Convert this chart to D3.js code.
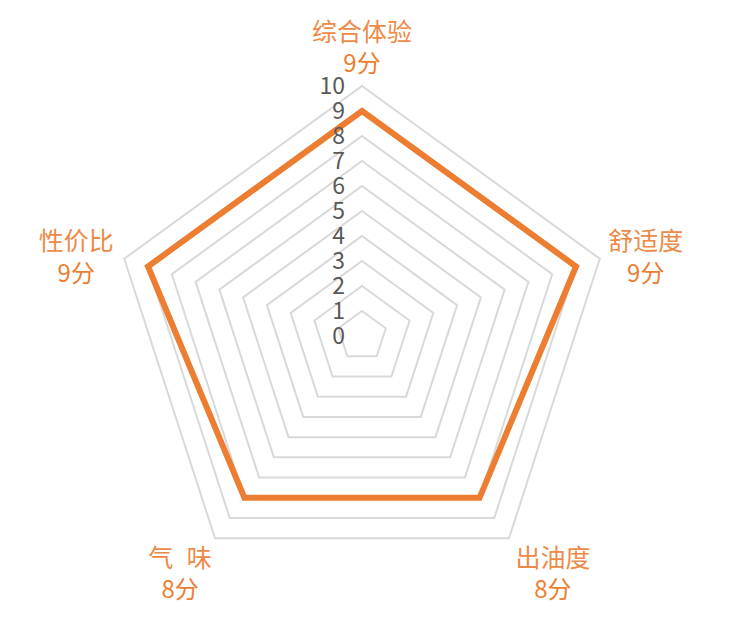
<!DOCTYPE html>
<html>
<head>
<meta charset="utf-8">
<script src="https://cdn.jsdelivr.net/npm/d3@7"></script>
<style>
  body { margin: 0; background: #fff; }
  text { font-family: "Noto Sans CJK SC", "Open Sans", sans-serif; white-space: pre; }
</style>
</head>
<body>
<div id="chart"></div>
<script>
// data
const categories = ["综合体验", "舒适度", "出油度", "气 味", "性价比"]
const scores = [9, 9, 8, 8, 9]
const scoreLabels = ["9分", "9分", "8分", "8分", "9分"]
const ticks = [0, 1, 2, 3, 4, 5, 6, 7, 8, 9, 10]

const width = 730, height = 631
const cx = 362, cy = 336, R = 250
const orange = "#ED7D31"

const svg = d3.select("#chart").append("svg")
    .attr("width", width)
    .attr("height", height)

const r = d3.scaleLinear().domain([0, 10]).range([0, R])
const angle = d3.scaleLinear().domain([0, categories.length]).range([0, 2 * Math.PI])

const pt = (i, v) => {
    const a = angle(i)
    return [cx + Math.sin(a) * r(v), cy - Math.cos(a) * r(v)]
}

const g = svg.append("g")

// grid pentagons
g.selectAll("polygon.grid")
    .data(ticks.filter(t => t > 0))
    .enter().append("polygon")
    .attr("class", "grid")
    .attr("points", t => categories.map((c, i) => pt(i, t).join(",")).join(" "))
    .attr("fill", "none")
    .attr("stroke", "#d9d9d9")
    .attr("stroke-width", 2)

// series line
const line = d3.line().curve(d3.curveLinearClosed)
g.append("path")
    .attr("d", line(scores.map((s, i) => pt(i, s))))
    .attr("fill", "none")
    .attr("stroke", orange)
    .attr("stroke-width", 6)
    .attr("stroke-linejoin", "miter")

// tick labels
g.selectAll("text.tick")
    .data(ticks)
    .enter().append("text")
    .attr("class", "tick")
    .attr("x", cx - 17)
    .attr("y", t => cy - r(t))
    .attr("dy", "0.36em")
    .attr("text-anchor", "end")
    .attr("font-size", "23px")
    .attr("fill", "#595959")
    .text(t => t)

// category labels, nudged off the outer ring like Excel does
const nudge = [[0, -23], [46, -1.5], [44, 35.5], [-35, 35.5], [-48, -1.5]]
const labels = g.selectAll("g.lab")
    .data(categories)
    .enter().append("g")
    .attr("class", "lab")
    .attr("transform", (c, i) => {
        const p = pt(i, 10)
        return `translate(${p[0] + nudge[i][0]}, ${p[1] + nudge[i][1]})`
    })

labels.append("text")
    .attr("text-anchor", "middle")
    .attr("y", (c, i) => i === 0 ? -31 : -16)
    .attr("dy", "0.36em")
    .attr("font-size", "25px")
    .attr("word-spacing", "8px")
    .attr("fill", "#EE8A47")
    .text(c => c)

labels.append("text")
    .attr("text-anchor", "middle")
    .attr("y", (c, i) => i === 0 ? 0 : 16)
    .attr("dy", "0.36em")
    .attr("font-size", "24px")
    .attr("fill", orange)
    .text((c, i) => scoreLabels[i])
</script>
</body>
</html>
